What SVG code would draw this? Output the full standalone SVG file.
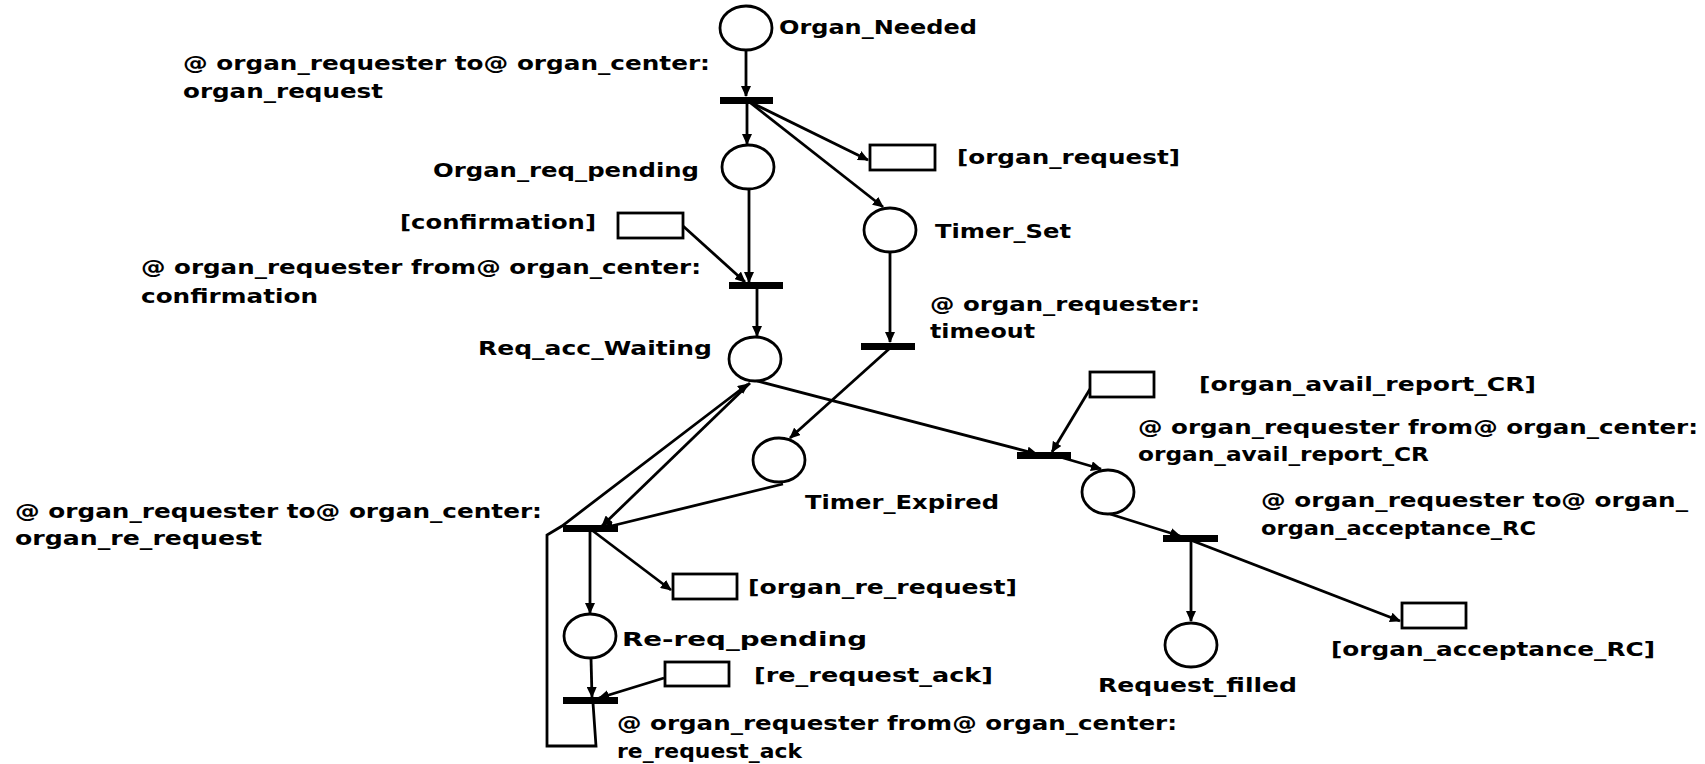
<svg xmlns="http://www.w3.org/2000/svg" width="1705" height="764" viewBox="0 0 1705 764">
<style>
.pl{fill:#fff;stroke:#000;stroke-width:2.8}
.msg{fill:#fff;stroke:#000;stroke-width:2.8}
.tr{fill:#000;stroke:none}
.c{fill:none;stroke:#000;stroke-width:2.8;marker-end:url(#ah)}
text{font-family:"DejaVu Sans","Liberation Sans",sans-serif;font-weight:bold;font-size:20px;fill:#000}
</style>
<defs>
<marker id="ah" markerUnits="userSpaceOnUse" markerWidth="11" markerHeight="10" refX="10" refY="5" orient="auto">
<path d="M0,0 L11,5 L0,10 z" fill="#000"/>
</marker>
</defs>
<rect width="1705" height="764" fill="#fff"/>

<g id="connectors">
<line class="c" x1="746" y1="50" x2="746" y2="96"/>
<line class="c" x1="747" y1="103" x2="747" y2="144"/>
<line class="c" x1="748" y1="101" x2="868" y2="160"/>
<line class="c" x1="748" y1="101" x2="883" y2="207"/>
<line class="c" x1="749" y1="189" x2="749" y2="282"/>
<line class="c" x1="683" y1="226" x2="745" y2="282"/>
<line class="c" x1="757" y1="289" x2="757" y2="336"/>
<line class="c" x1="890" y1="253" x2="890" y2="342"/>
<line class="c" x1="889" y1="349" x2="790" y2="438"/>
<line class="c" x1="757" y1="381" x2="1037" y2="454"/>
<line class="c" x1="1090" y1="389" x2="1052" y2="452"/>
<line class="c" x1="1060" y1="457" x2="1101" y2="469"/>
<line class="c" x1="1110" y1="514" x2="1180" y2="536"/>
<line class="c" x1="1191" y1="542" x2="1191" y2="621"/>
<line class="c" x1="1193" y1="541" x2="1400" y2="621"/>
<line class="c" x1="783" y1="484" x2="603" y2="528"/>
<line class="c" x1="750" y1="383" x2="602" y2="526"/>
<polyline class="c" points="593,703 596,746 547,746 547,535 562,526 748,384"/>
<line class="c" x1="590" y1="532" x2="590" y2="613"/>
<line class="c" x1="593" y1="531" x2="671" y2="590"/>
<line class="c" x1="591" y1="658" x2="592" y2="697"/>
<line class="c" x1="664" y1="678" x2="599" y2="698"/>
</g>

<g id="Organ_Needed"><ellipse class="pl" cx="746" cy="28" rx="26" ry="22"/><text x="779" y="34" textLength="198" lengthAdjust="spacingAndGlyphs">Organ_Needed</text></g>
<g id="t_organ_request"><rect class="tr" x="720" y="97" width="53" height="7"/>
<text x="183" y="70" textLength="527" lengthAdjust="spacingAndGlyphs">@ organ_requester to@ organ_center:</text>
<text x="183" y="98" textLength="200" lengthAdjust="spacingAndGlyphs">organ_request</text></g>
<g id="m_organ_request"><rect class="msg" x="870" y="145" width="65" height="25"/><text x="957" y="164" textLength="223" lengthAdjust="spacingAndGlyphs">[organ_request]</text></g>
<g id="Organ_req_pending"><ellipse class="pl" cx="748" cy="167" rx="26" ry="22"/><text x="433" y="177" textLength="266" lengthAdjust="spacingAndGlyphs">Organ_req_pending</text></g>
<g id="Timer_Set"><ellipse class="pl" cx="890" cy="230" rx="26" ry="22"/><text x="935" y="238" textLength="136" lengthAdjust="spacingAndGlyphs">Timer_Set</text></g>
<g id="m_confirmation"><rect class="msg" x="618" y="213" width="65" height="25"/><text x="400" y="229" textLength="196" lengthAdjust="spacingAndGlyphs">[confirmation]</text></g>
<g id="t_confirmation"><rect class="tr" x="729" y="282" width="54" height="7"/>
<text x="141" y="274" textLength="560" lengthAdjust="spacingAndGlyphs">@ organ_requester from@ organ_center:</text>
<text x="141" y="303" textLength="177" lengthAdjust="spacingAndGlyphs">confirmation</text></g>
<g id="t_timeout"><rect class="tr" x="861" y="343" width="54" height="7"/>
<text x="930" y="311" textLength="270" lengthAdjust="spacingAndGlyphs">@ organ_requester:</text>
<text x="930" y="338" textLength="105" lengthAdjust="spacingAndGlyphs">timeout</text></g>
<g id="Req_acc_Waiting"><ellipse class="pl" cx="755" cy="359" rx="26" ry="22"/><text x="478" y="355" textLength="234" lengthAdjust="spacingAndGlyphs">Req_acc_Waiting</text></g>
<g id="m_organ_avail_report_CR"><rect class="msg" x="1090" y="372" width="64" height="25"/><text x="1199" y="391" textLength="337" lengthAdjust="spacingAndGlyphs">[organ_avail_report_CR]</text></g>
<g id="t_organ_avail_report_CR"><rect class="tr" x="1017" y="452" width="54" height="7"/>
<text x="1138" y="434" textLength="560" lengthAdjust="spacingAndGlyphs">@ organ_requester from@ organ_center:</text>
<text x="1138" y="461" textLength="291" lengthAdjust="spacingAndGlyphs">organ_avail_report_CR</text></g>
<g id="p_avail"><ellipse class="pl" cx="1108" cy="492" rx="26" ry="22"/></g>
<g id="t_organ_acceptance_RC"><rect class="tr" x="1163" y="535" width="55" height="7"/>
<text x="1261" y="507" textLength="427" lengthAdjust="spacingAndGlyphs">@ organ_requester to@ organ_</text>
<text x="1261" y="535" textLength="275" lengthAdjust="spacingAndGlyphs">organ_acceptance_RC</text></g>
<g id="Request_filled"><ellipse class="pl" cx="1191" cy="645" rx="26" ry="22"/><text x="1098" y="692" textLength="199" lengthAdjust="spacingAndGlyphs">Request_filled</text></g>
<g id="m_organ_acceptance_RC"><rect class="msg" x="1402" y="603" width="64" height="25"/><text x="1331" y="656" textLength="324" lengthAdjust="spacingAndGlyphs">[organ_acceptance_RC]</text></g>
<g id="Timer_Expired"><ellipse class="pl" cx="779" cy="460" rx="26" ry="22"/><text x="805" y="509" textLength="194" lengthAdjust="spacingAndGlyphs">Timer_Expired</text></g>
<g id="t_organ_re_request"><rect class="tr" x="563" y="525" width="55" height="7"/>
<text x="15" y="518" textLength="527" lengthAdjust="spacingAndGlyphs">@ organ_requester to@ organ_center:</text>
<text x="15" y="545" textLength="247" lengthAdjust="spacingAndGlyphs">organ_re_request</text></g>
<g id="m_organ_re_request"><rect class="msg" x="673" y="574" width="64" height="25"/><text x="748" y="594" textLength="269" lengthAdjust="spacingAndGlyphs">[organ_re_request]</text></g>
<g id="Re-req_pending"><ellipse class="pl" cx="590" cy="636" rx="26" ry="22"/><text x="622" y="646" textLength="245" lengthAdjust="spacingAndGlyphs">Re-req_pending</text></g>
<g id="m_re_request_ack"><rect class="msg" x="665" y="662" width="64" height="24"/><text x="754" y="682" textLength="239" lengthAdjust="spacingAndGlyphs">[re_request_ack]</text></g>
<g id="t_re_request_ack"><rect class="tr" x="563" y="697" width="55" height="7"/>
<text x="617" y="730" textLength="560" lengthAdjust="spacingAndGlyphs">@ organ_requester from@ organ_center:</text>
<text x="617" y="758" textLength="185" lengthAdjust="spacingAndGlyphs">re_request_ack</text></g>
</svg>
